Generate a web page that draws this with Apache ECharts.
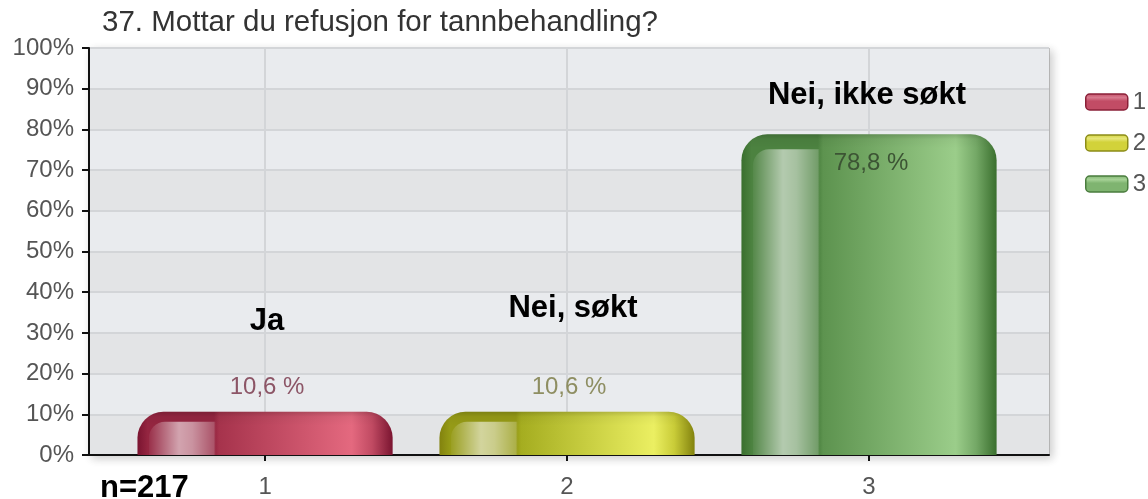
<!DOCTYPE html>
<html>
<head>
<meta charset="utf-8">
<script src="https://cdn.jsdelivr.net/npm/echarts@6/dist/echarts.min.js"></script>
<style>
  html, body { margin: 0; padding: 0; background: #ffffff; }
  #chart { width: 1148px; height: 499px; }
</style>
</head>
<body>
<div id="chart"></div>
<script>
// Survey question 37: share of respondents by answer
const categories = [1, 2, 3];
const seriesNames = ['1', '2', '3'];
const answers = ['Ja', 'Nei, søkt', 'Nei, ikke søkt'];
const shares = [10.6, 10.6, 78.8];
const sampleSize = 217;
const titleText = '37. Mottar du refusjon for tannbehandling?';

const FONT = '"Liberation Sans", Arial, Helvetica, sans-serif';

// Glossy cylinder palettes, one per answer
const palettes = [
  { edge: '#7a1430', dark: '#942540', base: '#a6334c', light: '#e4697f', fall: '#c04a62',
    label: '#8c5566', iconTop: '#d87a8e', icon: '#c24c65', iconBorder: '#8a2038' },
  { edge: '#82820e', dark: '#959a16', base: '#a5ad20', light: '#ebef62', fall: '#c9cc38',
    label: '#8e8e62', iconTop: '#e6e67a', icon: '#d2d23a', iconBorder: '#8c8c18' },
  { edge: '#3a6f2e', dark: '#4c8240', base: '#5d934f', light: '#9bcd8a', fall: '#74a866',
    label: '#3c5434', iconTop: '#a6d296', icon: '#7fb470', iconBorder: '#4a7c3e' }
];

function hGrad(stops) {
  return { type: 'linear', x: 0, y: 0, x2: 1, y2: 0,
    colorStops: stops.map(s => ({ offset: s[0], color: s[1] })) };
}

function fmtPct(v) {
  return v.toFixed(1).replace('.', ',') + ' %';
}

function renderBar(params, api) {
  const p = palettes[params.seriesIndex];
  const x = api.value(0);
  const v = api.value(1);
  const topPt = api.coord([x, v]);
  const basePt = api.coord([x, 0]);
  const w = api.size([0.845, 0])[0];
  const left = topPt[0] - w / 2;
  const top = topPt[1];
  const h = basePt[1] - top;
  const r = Math.min(26, h * 0.62, w / 2);
  const inside = h > 60;
  const stripeTop = inside ? 15 : 10;
  const rim = Math.min(1, 14 / h);

  return {
    type: 'group',
    children: [
      {
        type: 'rect',
        shape: { x: left, y: top, width: w, height: h, r: [r, r, 0, 0] },
        style: {
          fill: hGrad([
            [0, p.edge], [0.04, p.dark], [0.3, p.dark], [0.32, p.base],
            [0.84, p.light], [0.92, p.fall], [1, p.edge]
          ])
        }
      },
      {
        // soft darker rim along the rounded top
        type: 'rect',
        shape: { x: left, y: top, width: w, height: h, r: [r, r, 0, 0] },
        style: {
          fill: { type: 'linear', x: 0, y: 0, x2: 0, y2: 1, colorStops: [
            { offset: 0, color: 'rgba(0,0,0,0.16)' },
            { offset: rim * 0.35, color: 'rgba(0,0,0,0.04)' },
            { offset: rim, color: 'rgba(0,0,0,0)' },
            { offset: 1, color: 'rgba(0,0,0,0)' }
          ] }
        }
      },
      {
        // pale reflection stripe
        type: 'rect',
        shape: { x: left + w * 0.045, y: top + stripeTop, width: w * 0.262,
                 height: h - stripeTop, r: [Math.min(16, r * 0.7), 0, 0, 0] },
        style: {
          fill: hGrad([
            [0, 'rgba(255,255,255,0.05)'], [0.45, 'rgba(255,255,255,0.58)'],
            [0.65, 'rgba(255,255,255,0.5)'], [0.97, 'rgba(255,255,255,0.22)'],
            [1, 'rgba(255,255,255,0.0)']
          ])
        }
      },
      {
        type: 'text',
        style: {
          text: fmtPct(v),
          x: topPt[0] + 2,
          y: inside ? top + 29 : top - 24,
          align: 'center',
          verticalAlign: 'middle',
          fill: p.label,
          font: '24px ' + FONT
        }
      }
    ]
  };
}

const chart = echarts.init(document.getElementById('chart'), null, { renderer: 'canvas' });

const series = categories.map((c, i) => ({
  type: 'custom',
  name: seriesNames[i],
  renderItem: renderBar,
  data: [[c, shares[i]]],
  itemStyle: { color: palettes[i].icon },
  z: 3
}));

chart.setOption({
  animation: false,
  backgroundColor: '#ffffff',
  title: {
    text: titleText,
    left: 102,
    top: 8,
    padding: 0,
    textStyle: { fontFamily: FONT, fontSize: 29.5, fontWeight: 'normal', color: '#333333' }
  },
  legend: {
    orient: 'vertical',
    left: 1085,
    top: 90,
    itemWidth: 42,
    itemHeight: 16,
    itemGap: 17,
    icon: 'roundRect',
    padding: 0,
    textStyle: { fontFamily: FONT, fontSize: 24, color: '#555555' },
    data: seriesNames.map((n, i) => ({
      name: n,
      itemStyle: {
        color: { type: 'linear', x: 0, y: 0, x2: 0, y2: 1, colorStops: [
          { offset: 0, color: palettes[i].icon },
          { offset: 0.25, color: palettes[i].iconTop },
          { offset: 0.45, color: palettes[i].icon },
          { offset: 1, color: palettes[i].icon }
        ] },
        borderColor: palettes[i].iconBorder,
        borderWidth: 1.5
      }
    }))
  },
  grid: {
    left: 89, top: 48, right: 99, bottom: 41,
    show: true,
    backgroundColor: '#e8eaed',
    borderColor: '#8f8f8f',
    borderWidth: 1,
    shadowColor: 'rgba(0,0,0,0.2)',
    shadowBlur: 9,
    shadowOffsetX: 3,
    shadowOffsetY: 3
  },
  xAxis: {
    type: 'value',
    min: 0.417,
    max: 3.596,
    axisLine: { show: true, onZero: false, lineStyle: { color: '#111111', width: 2 } },
    axisTick: { show: true, customValues: categories, length: 6, lineStyle: { color: '#111111', width: 2 } },
    axisLabel: { customValues: categories, fontFamily: FONT, fontSize: 24, color: '#555555', margin: 20 },
    splitLine: { show: true, lineStyle: { color: '#d3d5d8', width: 2 } }
  },
  yAxis: {
    type: 'value',
    min: 0,
    max: 100,
    interval: 10,
    axisLine: { show: true, lineStyle: { color: '#111111', width: 2 } },
    axisTick: { show: true, length: 7, lineStyle: { color: '#111111', width: 2 } },
    axisLabel: { formatter: '{value}%', fontFamily: FONT, fontSize: 24, color: '#555555', margin: 15 },
    splitLine: { show: true, lineStyle: { color: '#d3d5d8', width: 2 } },
    splitArea: { show: true, areaStyle: { color: ['#e3e4e6', '#e9ebee'] } }
  },
  graphic: [
    { type: 'text', x: 267, y: 321, z: 10,
      style: { text: answers[0], font: 'bold 31px ' + FONT, fill: '#000000', align: 'center', verticalAlign: 'middle' } },
    { type: 'text', x: 573, y: 308, z: 10,
      style: { text: answers[1], font: 'bold 31px ' + FONT, fill: '#000000', align: 'center', verticalAlign: 'middle' } },
    { type: 'text', x: 867, y: 95, z: 10,
      style: { text: answers[2], font: 'bold 31px ' + FONT, fill: '#000000', align: 'center', verticalAlign: 'middle' } },
    { type: 'text', x: 100, y: 488, z: 10,
      style: { text: 'n=' + sampleSize, font: 'bold 31px ' + FONT, fill: '#000000', align: 'left', verticalAlign: 'middle' } }
  ],
  series: series
});
</script>
</body>
</html>
